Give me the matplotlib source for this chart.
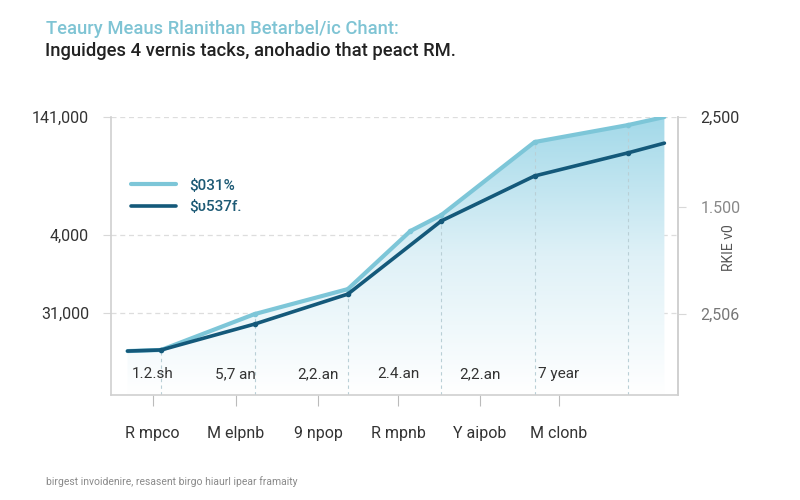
import matplotlib.pyplot as plt
import numpy as np
from matplotlib.patches import Polygon

plt.rcParams['font.family'] = ['Roboto', 'DejaVu Sans']

# data (arbitrary units)
light_x = [0.64, 1.0, 2.0, 3.0, 3.67, 4.0, 5.0, 6.0, 6.39]
light_y = [15.8, 16.2, 29.1, 38.1, 59.0, 64.7, 91.0, 97.1, 100.0]
dark_x = [0.64, 1.0, 2.0, 3.0, 4.0, 5.0, 6.0, 6.39]
dark_y = [15.8, 16.2, 25.5, 36.3, 62.6, 78.8, 87.1, 90.6]
series_names = ["$031%", "$υ537f."]

cat_pos = [0.91, 1.80, 2.68, 3.54, 4.41, 5.26]
cat_labels = ["R mpco", "M elpnb", "9 npop", "R mpnb", "Y aipob", "M clonb"]
inner_labels = ["1.2.sh", "5,7 an", "2,2.an", "2.4.an", "2,2.an", "7 year"]

left_ticks = [100, 57.6, 29.5]
left_labels = ["141,000", "4,000", "31,000"]
right_ticks = [100, 67.6, 29.1]
right_labels = ["2,500", "1.500", "2,506"]

light_c = "#7dc6d8"
dark_c = "#14597a"

fig = plt.figure(figsize=(8, 5), dpi=100)
ax = fig.add_axes([0.139, 0.21, 0.709, 0.556])
ax.set_xlim(0.465, 6.54)
ax.set_ylim(0, 100)

# gradient fill under the light series
grad = np.linspace(0, 1, 256).reshape(-1, 1)
cmap = plt.matplotlib.colors.LinearSegmentedColormap.from_list("g", ["#ffffff", "#dff1f7", "#a3d9e9"])
im = ax.imshow(grad, extent=[0.465, 6.54, 0, 100], origin="lower", aspect="auto",
               cmap=cmap, zorder=1)
poly = Polygon(list(zip(light_x, light_y)) + [(light_x[-1], 0), (light_x[0], 0)],
               closed=True, transform=ax.transData, facecolor="none", edgecolor="none")
ax.add_patch(poly)
im.set_clip_path(poly)

# grid
for y in left_ticks:
    ax.axhline(y, color="#dddddd", lw=0.9, ls=(0, (4, 3)), zorder=0.5)
for x in range(1, 7):
    vl = ax.axvline(x, color="#b9cfd6", lw=0.8, ls=(0, (3, 3)), zorder=1.5)
    vl.set_clip_path(poly)

ax.plot(light_x, light_y, color=light_c, lw=3, solid_capstyle="round", zorder=3, label=series_names[0])
ax.plot(dark_x, dark_y, color=dark_c, lw=2.6, solid_capstyle="round", zorder=4, label=series_names[1])
ax.plot(light_x[1:-1], light_y[1:-1], "o", color=light_c, ms=3, zorder=3)
ax.plot(dark_x[1:-1], dark_y[1:-1], "o", color=dark_c, ms=3, zorder=4)

for x, t in zip(cat_pos, inner_labels):
    ax.text(x, 7.5, t, ha="center", va="center", fontsize=11, color="#333333", zorder=5)

ax.set_xticks(cat_pos)
ax.set_xticklabels(cat_labels, fontsize=11.5, color="#333333")
ax.tick_params(axis="x", length=8, color="#bbbbbb", pad=14)

ax.set_yticks(left_ticks)
ax.set_yticklabels(left_labels, fontsize=11.5, color="#333333")
ax.tick_params(axis="y", length=6, color="#d8d8d8", pad=10)

ax.spines["top"].set_visible(False)
for s in ["left", "right", "bottom"]:
    ax.spines[s].set_color("#d0d0d0")
    ax.spines[s].set_linewidth(1.2)

ax2 = ax.twinx()
ax2.set_ylim(0, 100)
ax2.set_yticks(right_ticks)
ax2.set_yticklabels(right_labels, fontsize=11.5)
for lab, c in zip(ax2.get_yticklabels(), ["#333333", "#888888", "#777777"]):
    lab.set_color(c)
ax2.tick_params(axis="y", length=6, color="#d8d8d8", pad=10)
ax2.set_ylabel("RKIE v0", fontsize=10, color="#555555", labelpad=-12)
ax2.yaxis.set_label_coords(1.077, 0.53)
ax2.spines["top"].set_visible(False)
ax2.spines["right"].set_color("#d0d0d0")
ax2.spines["right"].set_linewidth(1.2)
ax2.spines["left"].set_visible(False)
ax2.spines["bottom"].set_visible(False)

leg = ax.legend(loc="upper left", bbox_to_anchor=(0.025, 0.8), frameon=False, fontsize=11,
                handlelength=2.9, handletextpad=0.9, labelcolor="#1d5a75", borderaxespad=0)
for t in leg.get_texts():
    t.set_fontweight("medium")

fig.text(0.058, 0.943, "Teaury Meaus Rlanithan Betarbel/ic Chant:", fontsize=13.2,
         color="#7fc4d4", va="center", fontweight="medium")
fig.text(0.056, 0.897, "Inguidges 4 vernis tacks, anohadio that peact RM.", fontsize=13.2,
         color="#222222", va="center", fontweight="medium")
fig.text(0.058, 0.036, "birgest invoidenire, resasent birgo hiaurl ipear framaity", fontsize=7.5,
         color="#8a8a8a", va="center")

fig.savefig("out.png", dpi=100, facecolor="white")
